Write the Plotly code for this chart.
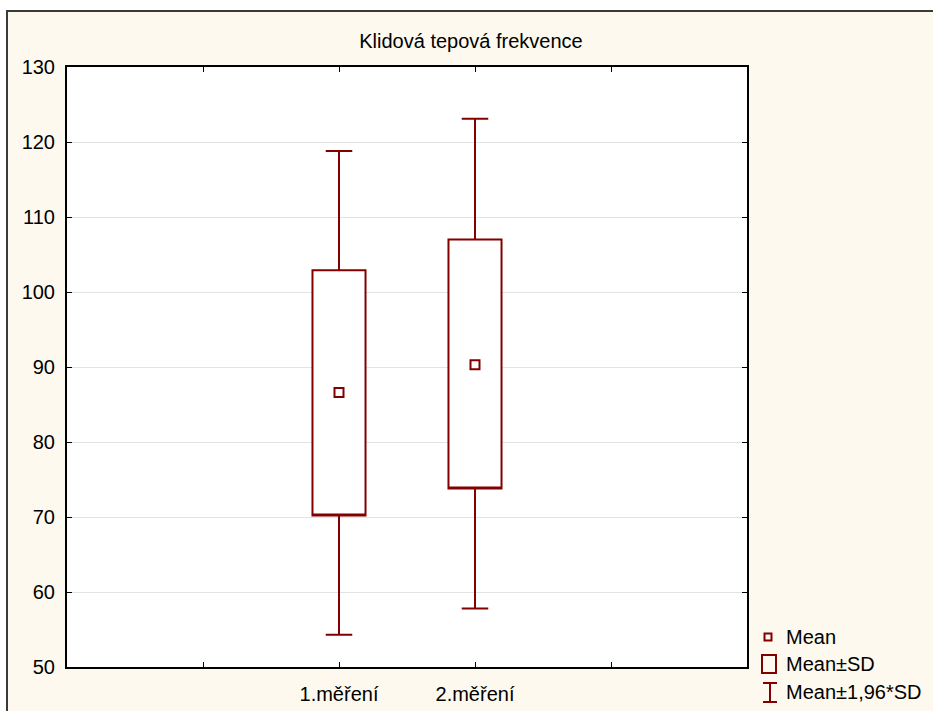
import plotly.graph_objects as go

# ---- data ----
categories = ["1.měření", "2.měření"]
cat_pos = [2, 3]
mean_vals = [86.6, 90.3]
sd_low = [70.2, 73.8]
sd_high = [102.9, 107.0]
ci_low = [54.3, 57.8]
ci_high = [118.8, 123.1]
y_ticks = [50, 60, 70, 80, 90, 100, 110, 120, 130]
legend_labels = ["Mean", "Mean±SD", "Mean±1,96*SD"]
title_text = "Klidová tepová frekvence"

W, H = 933, 711
ML, MR, MT, MB = 67, 186, 67, 44
PW, PH = W - ML - MR, H - MT - MB
RED = "#820000"
CREAM = "#FDF9EE"
FONT = "Liberation Sans, Arial, sans-serif"
FS = 20


def px_x(x):
    return (x - ML) / PW


def px_y(y):
    return (H - MB - y) / PH


fig = go.Figure()

fig.add_trace(go.Box(
    x=cat_pos, q1=sd_low, median=sd_low, q3=sd_high,
    lowerfence=ci_low, upperfence=ci_high,
    width=0.39, whiskerwidth=0.5, boxpoints=False,
    fillcolor="white", line=dict(color=RED, width=2),
    showlegend=False, hoverinfo="skip",
))

fig.add_trace(go.Scatter(
    x=cat_pos, y=mean_vals, mode="markers",
    marker=dict(symbol="square-open", size=9, color=RED, line=dict(width=2, color=RED)),
    showlegend=False, hoverinfo="skip",
))

FRAME = "#3a3a3a"
shapes = [
    # white strips outside the cream frame
    dict(type="rect", xref="paper", yref="paper", layer="below",
         x0=px_x(0), x1=px_x(W), y0=px_y(10), y1=px_y(0),
         fillcolor="white", line=dict(width=0)),
    dict(type="rect", xref="paper", yref="paper", layer="below",
         x0=px_x(0), x1=px_x(6), y0=px_y(H), y1=px_y(0),
         fillcolor="white", line=dict(width=0)),
    # frame border lines
    dict(type="line", xref="paper", yref="paper", layer="below",
         x0=px_x(6), x1=px_x(W), y0=px_y(11), y1=px_y(11),
         line=dict(color=FRAME, width=2)),
    dict(type="line", xref="paper", yref="paper", layer="below",
         x0=px_x(7), x1=px_x(7), y0=px_y(H), y1=px_y(10),
         line=dict(color=FRAME, width=2)),
    # white plot area
    dict(type="rect", xref="paper", yref="paper", layer="below",
         x0=0, x1=1, y0=0, y1=1, fillcolor="white", line=dict(width=0)),
    # legend: mean marker
    dict(type="rect", xref="paper", yref="paper",
         x0=px_x(764.5), x1=px_x(771.5), y0=px_y(640.5), y1=px_y(633.5),
         line=dict(color=RED, width=2), fillcolor="rgba(0,0,0,0)"),
    # legend: SD box
    dict(type="rect", xref="paper", yref="paper",
         x0=px_x(762), x1=px_x(776), y0=px_y(673), y1=px_y(655),
         line=dict(color=RED, width=2), fillcolor="rgba(0,0,0,0)"),
    # legend: whisker I icon
    dict(type="line", xref="paper", yref="paper",
         x0=px_x(770), x1=px_x(770), y0=px_y(702), y1=px_y(683),
         line=dict(color=RED, width=2)),
    dict(type="line", xref="paper", yref="paper",
         x0=px_x(763), x1=px_x(777), y0=px_y(683), y1=px_y(683),
         line=dict(color=RED, width=2)),
    dict(type="line", xref="paper", yref="paper",
         x0=px_x(763), x1=px_x(777), y0=px_y(702), y1=px_y(702),
         line=dict(color=RED, width=2)),
]

annotations = []
for lab, yy in zip(legend_labels, [637, 664, 692]):
    annotations.append(dict(
        text=lab, xref="paper", yref="paper", x=px_x(784), y=px_y(yy),
        xanchor="left", yanchor="middle", showarrow=False,
        font=dict(family=FONT, size=FS, color="black"),
    ))

fig.update_layout(
    width=W, height=H, autosize=False,
    margin=dict(l=ML, r=MR, t=MT, b=MB, pad=0, autoexpand=False),
    paper_bgcolor=CREAM, plot_bgcolor="white",
    title=dict(text=title_text, x=471 / W, xref="container",
               y=1 - 41 / H, yref="container", xanchor="center", yanchor="middle",
               font=dict(family=FONT, size=FS, color="black")),
    shapes=shapes, annotations=annotations,
    showlegend=False,
    font=dict(family=FONT, size=FS, color="black"),
)

fig.update_xaxes(
    range=[0, 5], tickvals=[1, 2, 3, 4], ticktext=[""] + categories + [""],
    ticks="inside", ticklen=5, tickwidth=1, tickcolor="black",
    showline=True, linecolor="black", linewidth=2, mirror="ticks",
    showgrid=False, zeroline=False, ticklabelstandoff=8, automargin=False,
    tickfont=dict(family=FONT, size=FS, color="black"),
)
fig.update_yaxes(
    range=[50, 130], tickvals=y_ticks,
    ticks="inside", ticklen=5, tickwidth=1, tickcolor="black",
    showline=True, linecolor="black", linewidth=2, mirror="ticks",
    showgrid=True, gridcolor="#e3e3e3", gridwidth=1, zeroline=False,
    ticklabelstandoff=6, automargin=False,
    tickfont=dict(family=FONT, size=FS, color="black"),
)

fig.write_html("out.html", config={"responsive": False, "displayModeBar": False})
